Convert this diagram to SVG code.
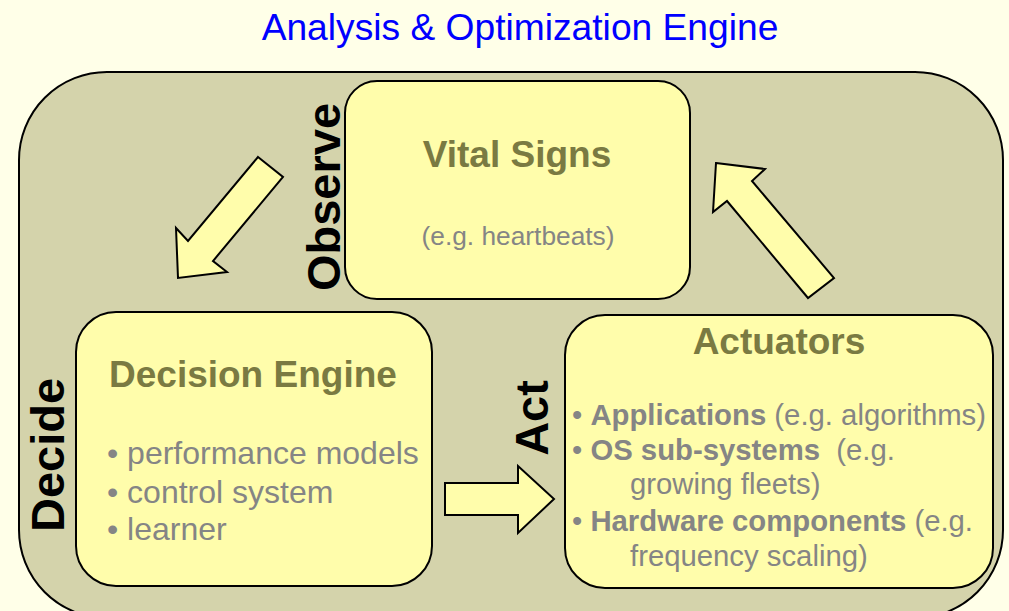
<svg xmlns="http://www.w3.org/2000/svg" width="1009" height="611" viewBox="0 0 1009 611">
  <style>
    text { font-family: "Liberation Sans", Arial, sans-serif; }
    .title { font-size: 37.2px; fill: #0000ff; }
    .box { fill: #fffdab; stroke: #000; stroke-width: 2; }
    .head { font-size: 37px; font-weight: bold; fill: #7a7a42; }
    .item { font-size: 32px; fill: #858585; }
    .act-item { font-size: 29.3px; fill: #858585; white-space: pre; }
    .b { font-weight: bold; }
    .stage { font-size: 47px; font-weight: bold; fill: #000; }
    .arrow { fill: #fffdab; stroke: #000; stroke-width: 2; stroke-linejoin: miter; }
  </style>

  <!-- page background -->
  <rect x="0" y="0" width="1009" height="611" fill="#ffffe8"/>

  <text class="title" x="520" y="40" text-anchor="middle">Analysis &amp; Optimization Engine</text>

  <!-- engine frame -->
  <g id="engine">
    <rect x="19" y="72" width="984" height="546" rx="88" ry="88" fill="#d4d3ab" stroke="#000" stroke-width="2"/>
  </g>

  <!-- Observe: vital signs -->
  <g id="vital-signs">
    <rect class="box" x="345" y="81" width="345" height="218" rx="32" ry="32"/>
    <text class="head" x="517" y="167" text-anchor="middle">Vital Signs</text>
    <text x="518" y="245" text-anchor="middle" font-size="26.3" fill="#858585">(e.g. heartbeats)</text>
    <text class="stage" transform="translate(340,197) rotate(-90)" text-anchor="middle">Observe</text>
  </g>

  <!-- Decide: decision engine -->
  <g id="decision-engine">
    <rect class="box" x="76" y="312" width="356" height="274" rx="40" ry="40"/>
    <text class="head" x="109" y="387">Decision Engine</text>
    <text class="item" x="107" y="464">• performance models</text>
    <text class="item" x="107" y="503">• control system</text>
    <text class="item" x="107" y="540">• learner</text>
    <text class="stage" transform="translate(64,455) rotate(-90)" text-anchor="middle">Decide</text>
  </g>

  <!-- Act: actuators -->
  <g id="actuators">
    <rect class="box" x="565" y="315" width="428" height="273" rx="40" ry="40"/>
    <text class="head" x="779" y="354" text-anchor="middle">Actuators</text>
    <text class="act-item" x="572" y="425">• <tspan class="b">Applications</tspan> (e.g. algorithms)</text>
    <text class="act-item" x="572" y="460">• <tspan class="b">OS sub-systems</tspan>  (e.g.</text>
    <text class="act-item" x="630" y="494">growing fleets)</text>
    <text class="act-item" x="572" y="531">• <tspan class="b">Hardware components</tspan> (e.g.</text>
    <text class="act-item" x="630" y="566">frequency scaling)</text>
    <text class="stage" transform="translate(548,418) rotate(-90)" text-anchor="middle" font-size="54">Act</text>
  </g>

  <!-- block arrows of the loop -->
  <g id="connectors">
    <polygon class="arrow" points="258,157 283,177 213,261 227,272 178,278 176,228 188,241"/>
    <polygon class="arrow" points="445,483 518,483 518,466 554,499 518,533 518,515 445,515"/>
    <polygon class="arrow" points="716,163 765,169 752,181 834,278 808,298 727,201 713,212"/>
  </g>
</svg>
